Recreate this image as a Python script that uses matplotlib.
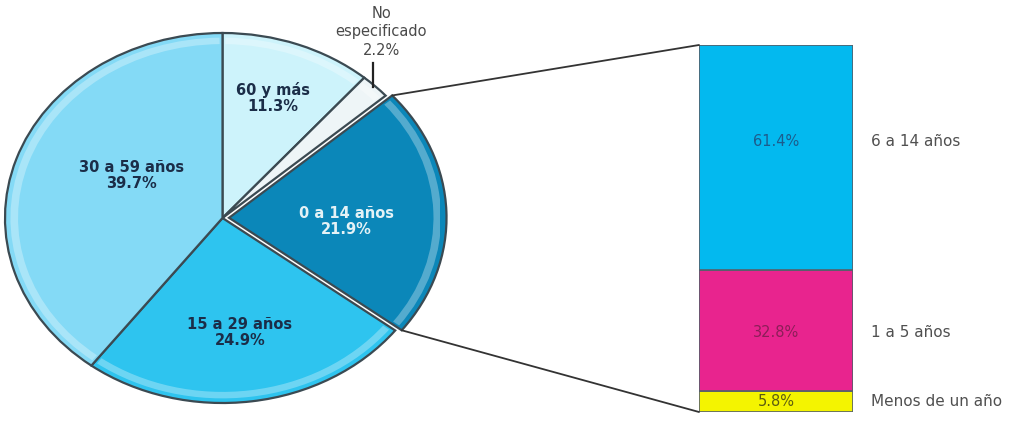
import numpy as np
import matplotlib.pyplot as plt
from matplotlib.patches import ConnectionPatch, Wedge

plt.rcParams['font.family'] = ['DejaVu Sans']

# Population by age group (pie)
pie_labels = ['60 y más', 'No\nespecificado', '0 a 14 años', '15 a 29 años', '30 a 59 años']
pie_values = [11.3, 2.2, 21.9, 24.9, 39.7]
pie_colors = ['#cdf3fb', '#eef5f7', '#0b87b9', '#2ec4ef', '#84daf6']

# Breakdown of the 0 a 14 años group (stacked bar, bottom to top)
bar_labels = ['Menos de un año', '1 a 5 años', '6 a 14 años']
bar_values = [5.8, 32.8, 61.4]
bar_colors = ['#f4f400', '#e8248e', '#03b9ef']
bar_text_colors = ['#5c5c10', '#8c1e58', '#1d5c8c']

W, H = 1021, 424
fig = plt.figure(figsize=(W / 100, H / 100), dpi=100)

def frac(x0, y0, x1, y1):
    return [x0 / W, 1 - y1 / H, (x1 - x0) / W, (y1 - y0) / H]

# ---- Pie (elliptical, axes aspect left free) ----
axp = fig.add_axes(frac(5, 33, 440, 403))
explode = [0, 0, 0.03, 0, 0]
wedges, _ = axp.pie(pie_values, colors=pie_colors, startangle=90, counterclock=False,
                    explode=explode, radius=1.0,
                    wedgeprops=dict(edgecolor='#3b4a52', linewidth=1.6))
axp.set_aspect('auto')
axp.set_xlim(-1.0, 1.0)
axp.set_ylim(-1.0, 1.0)
axp.axis('off')
for w in wedges:
    w.set_clip_on(False)

# inner highlight on each wedge for a bevelled look
for w in wedges:
    hl = Wedge(w.center, 0.975, w.theta1 + 0.8, w.theta2 - 0.8, width=0.035,
               facecolor='white', alpha=0.3, edgecolor='none')
    axp.add_patch(hl)

dark = '#1b2d48'
label_pos = {
    '60 y más': (0.23, 0.65),
    '0 a 14 años': (0.57, -0.02),
    '15 a 29 años': (0.08, -0.62),
    '30 a 59 años': (-0.42, 0.23),
}
for lab, val in zip(pie_labels, pie_values):
    if lab in label_pos:
        x, y = label_pos[lab]
        col = '#e4f2f6' if lab == '0 a 14 años' else dark
        axp.text(x, y, f'{lab}\n{val}%', ha='center', va='center', fontsize=10.5,
                 fontweight='bold', color=col, linespacing=1.1)

# small callout for the "No especificado" slice
ne_idx = 1
axp.text(0.73, 0.865, f'{pie_labels[ne_idx]}\n{pie_values[ne_idx]}%', ha='center',
         va='bottom', fontsize=10.5, color='#4a4a4a', linespacing=1.3)
axp.plot([0.69, 0.69], [0.84, 0.71], color='#222222', lw=1.6, clip_on=False)

# ---- Stacked bar ----
axb = fig.add_axes(frac(699, 45, 853, 412))
label_shift = [0, -0.5, 4.5]
bottom = 0
for lab, val, col, tcol, dy in zip(bar_labels, bar_values, bar_colors,
                                   bar_text_colors, label_shift):
    axb.bar(0, val, width=1.0, bottom=bottom, color=col, edgecolor='#55606a', linewidth=1.2)
    yl = bottom + val / 2 + dy
    axb.text(0, yl, f'{val}%', ha='center', va='center', fontsize=10.5, color=tcol)
    axb.text(0.62, yl, lab, ha='left', va='center', fontsize=11, color='#505050',
             clip_on=False)
    bottom += val
axb.set_xlim(-0.5, 0.5)
axb.set_ylim(0, sum(bar_values))
axb.axis('off')

# ---- Connector lines from the 0 a 14 años slice to the bar ----
w = wedges[2]
cx, cy = w.center
for ang, yb in [(w.theta2, sum(bar_values)), (w.theta1, 0)]:
    px = cx + np.cos(np.radians(ang))
    py = cy + np.sin(np.radians(ang))
    con = ConnectionPatch(xyA=(px, py), coordsA=axp.transData,
                          xyB=(-0.5, yb), coordsB=axb.transData,
                          color='#333333', lw=1.3)
    fig.add_artist(con)

fig.savefig('out.png', dpi=100, facecolor='white')
